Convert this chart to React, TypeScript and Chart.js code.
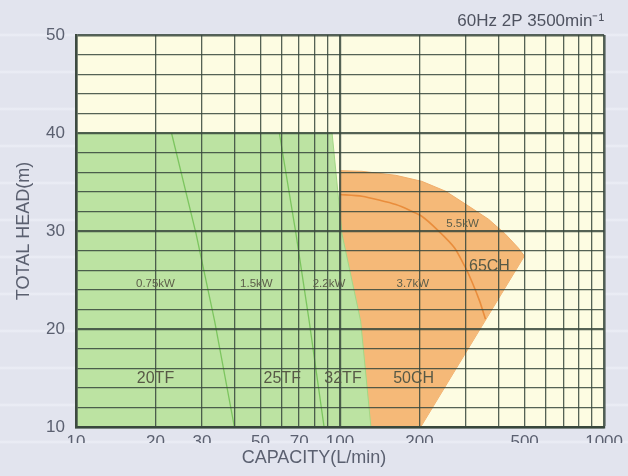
import React, { useEffect, useRef } from 'react';
import { Chart, registerables } from 'chart.js';

Chart.register(...registerables);

// ---- axis ticks ----
const xTickValues = [10, 20, 30, 40, 50, 60, 70, 80, 90, 100, 200, 300, 400, 500, 600, 700, 800, 900, 1000];
const xTickLabels = [10, 20, 30, 50, 70, 100, 200, 500, 1000];
const xMajorTicks = [10, 100, 1000];
const yTickLabels = [10, 20, 30, 40, 50];

// ---- green area (20TF / 25TF / 32TF) ----
const greenAreaX = [10, 93.3, 101.7, 119.7, 130.9];
const greenAreaY = [40, 40, 29.7, 20.8, 10];

// boundary 0.75kW | 1.5kW
const line075X = [23.0, 28.5, 33.5, 39.8];
const line075Y = [40, 29.7, 20.8, 10];
// boundary 1.5kW | 2.2kW
const line15X = [58.9, 68.1, 76.4, 87.0];
const line15Y = [40, 29.7, 20.8, 10];

// ---- orange area (50CH / 65CH) ----
// upper edge
const orangeTopX = [100, 121, 162.7, 203.9, 251, 306.8, 365, 423, 473.6, 499];
const orangeTopY = [36.16, 36.09, 35.68, 35.07, 34.06, 32.54, 31.2, 29.68, 28.26, 27.45];
// lower edge (bottom, then the straight right edge up to the tip)
const orangeBottomX = [100, 202, 499];
const orangeBottomY = [10, 10, 27.45];

// boundary 3.7kW | 5.5kW
const line37X = [100, 121, 162.7, 203.9, 236.4, 271.6, 296.3, 315, 337.6, 355.6];
const line37Y = [33.72, 33.55, 32.7, 31.51, 29.99, 28.27, 26.43, 24.9, 22.87, 21.0];

// ---- in-chart labels ----
const powerLabels = ['0.75kW', '1.5kW', '2.2kW', '3.7kW', '5.5kW'];
const powerLabelX = [20, 48.2, 90.8, 188.6, 291];
const powerLabelY = [24.6, 24.6, 24.6, 24.6, 30.7];
const modelLabels = ['20TF', '25TF', '32TF', '50CH', '65CH'];
const modelLabelX = [20, 60.4, 102.6, 190, 368];
const modelLabelY = [14.9, 14.9, 14.9, 14.9, 26.4];

const FONT = '"Liberation Sans", Arial, Helvetica, sans-serif';

const pts = (xs: number[], ys: number[]) => xs.map((x, i) => ({ x, y: ys[i] }));

const areaBg = {
  id: 'areaBg',
  beforeDraw(chart: any) {
    const { ctx, chartArea: a } = chart;
    ctx.save();
    ctx.fillStyle = '#FDFCE2';
    ctx.fillRect(a.left, a.top, a.right - a.left, a.bottom - a.top);
    ctx.restore();
  },
};

const textLabels = {
  id: 'textLabels',
  afterDraw(chart: any) {
    const { ctx } = chart;
    const x = chart.scales.x;
    const y = chart.scales.y;
    ctx.save();
    ctx.textAlign = 'center';
    ctx.textBaseline = 'middle';
    ctx.fillStyle = '#5c5e4a';
    ctx.font = `11.5px ${FONT}`;
    powerLabels.forEach((t, i) => {
      ctx.fillText(t, x.getPixelForValue(powerLabelX[i]), y.getPixelForValue(powerLabelY[i]));
    });
    ctx.fillStyle = '#575946';
    ctx.font = `16px ${FONT}`;
    modelLabels.forEach((t, i) => {
      ctx.fillText(t, x.getPixelForValue(modelLabelX[i]), y.getPixelForValue(modelLabelY[i]));
    });
    ctx.restore();
  },
};

export default function App() {
  const ref = useRef<HTMLCanvasElement>(null);

  useEffect(() => {
    if (!ref.current) return;
    const gridColor = 'rgba(55,70,60,0.85)';
    const tickColor = '#5b6070';
    const chart = new Chart(ref.current, {
      type: 'line',
      data: {
        datasets: [
          {
            label: '0.75kW',
            data: pts(line075X, line075Y),
            borderColor: '#7CC55F',
            borderWidth: 1.3,
            pointRadius: 0,
            fill: false,
          },
          {
            label: '1.5kW',
            data: pts(line15X, line15Y),
            borderColor: '#7CC55F',
            borderWidth: 1.3,
            pointRadius: 0,
            fill: false,
          },
          {
            label: 'TF',
            data: pts(greenAreaX, greenAreaY),
            borderColor: '#A2D786',
            borderWidth: 1,
            backgroundColor: '#BCE3A2',
            pointRadius: 0,
            fill: 'start',
          },
          {
            label: '3.7kW',
            data: pts(line37X, line37Y),
            borderColor: '#E98D3C',
            borderWidth: 1.6,
            pointRadius: 0,
            tension: 0.2,
            fill: false,
          },
          {
            label: 'CH',
            data: pts(orangeTopX, orangeTopY),
            borderColor: '#F0AE6C',
            borderWidth: 1,
            backgroundColor: '#F5B978',
            pointRadius: 0,
            fill: '+1',
          },
          {
            label: 'CH lower',
            data: pts(orangeBottomX, orangeBottomY),
            borderColor: '#F0AE6C',
            borderWidth: 1,
            pointRadius: 0,
            fill: false,
          },
        ] as any,
      },
      options: {
        animation: false,
        responsive: false,
        events: [],
        layout: { padding: 0 },
        plugins: {
          legend: { display: false },
          tooltip: { enabled: false },
          subtitle: {
            display: true,
            text: '60Hz 2P 3500min⁻¹',
            position: 'top',
            align: 'end',
            fullSize: false,
            color: '#4f5360',
            font: { family: FONT, size: 17, lineHeight: 1.0 },
            padding: { top: 12.5, bottom: 5.5 },
          },
          title: {
            display: true,
            text: 'CAPACITY(L/min)',
            position: 'bottom',
            align: 'center',
            fullSize: true,
            color: '#5b6070',
            font: { family: FONT, size: 18, weight: 'normal', lineHeight: 1.0 },
            padding: { top: 6, bottom: 9 },
          },
        },
        scales: {
          x: {
            type: 'logarithmic',
            min: 10,
            max: 1000,
            afterBuildTicks: (axis: any) => {
              axis.ticks = xTickValues.map((v) => ({ value: v }));
            },
            afterFit: (axis: any) => {
              axis.height = 16;
            },
            ticks: {
              autoSkip: false,
              maxRotation: 0,
              padding: 5,
              color: tickColor,
              font: { family: FONT, size: 17 },
              callback: (v: any) => (xTickLabels.includes(Number(v)) ? String(v) : ''),
            },
            grid: {
              z: 1,
              color: gridColor,
              drawTicks: false,
              lineWidth: (c: any) => {
                const v = c.tick && c.tick.value;
                if (v === 1000) return 2.6;
                return xMajorTicks.includes(v) ? 2.2 : 1.3;
              },
            },
            border: { z: 1, display: true, color: '#3d4a40', width: 2.6 },
          },
          y: {
            type: 'linear',
            min: 10,
            max: 50,
            afterFit: (axis: any) => {
              axis.width = 76;
            },
            ticks: {
              stepSize: 2,
              autoSkip: false,
              padding: 11,
              color: tickColor,
              font: { family: FONT, size: 17 },
              callback: (v: any) => (yTickLabels.includes(Number(v)) ? String(v) : ''),
            },
            grid: {
              z: 1,
              color: gridColor,
              drawTicks: false,
              lineWidth: (c: any) => {
                const v = c.tick && c.tick.value;
                if (v === 50) return 2.6;
                return yTickLabels.includes(v) ? 2.2 : 1.3;
              },
            },
            border: { z: 1, display: true, color: '#3d4a40', width: 2.6 },
            title: {
              display: true,
              text: 'TOTAL HEAD(m)',
              color: '#5b6070',
              font: { family: FONT, size: 18, lineHeight: 1.0 },
              padding: { top: 15.5, bottom: 0 },
            },
          },
          y2: {
            type: 'linear',
            position: 'right',
            display: true,
            afterFit: (axis: any) => {
              axis.width = 22;
            },
            ticks: { display: false },
            grid: { display: false, drawTicks: false },
            border: { display: false },
          },
        },
      } as any,
      plugins: [areaBg, textLabels],
    });
    return () => chart.destroy();
  }, []);

  return (
    <div
      style={{
        position: 'absolute',
        left: 0,
        top: 0,
        width: 628,
        height: 476,
        background:
          'repeating-linear-gradient(to bottom, #E2E4EE 0px, #E2E4EE 33px, #ECEEF6 35px, #E2E4EE 37px)',
      }}
    >
      <canvas ref={ref} width={628} height={476} style={{ display: 'block' }} />
    </div>
  );
}
